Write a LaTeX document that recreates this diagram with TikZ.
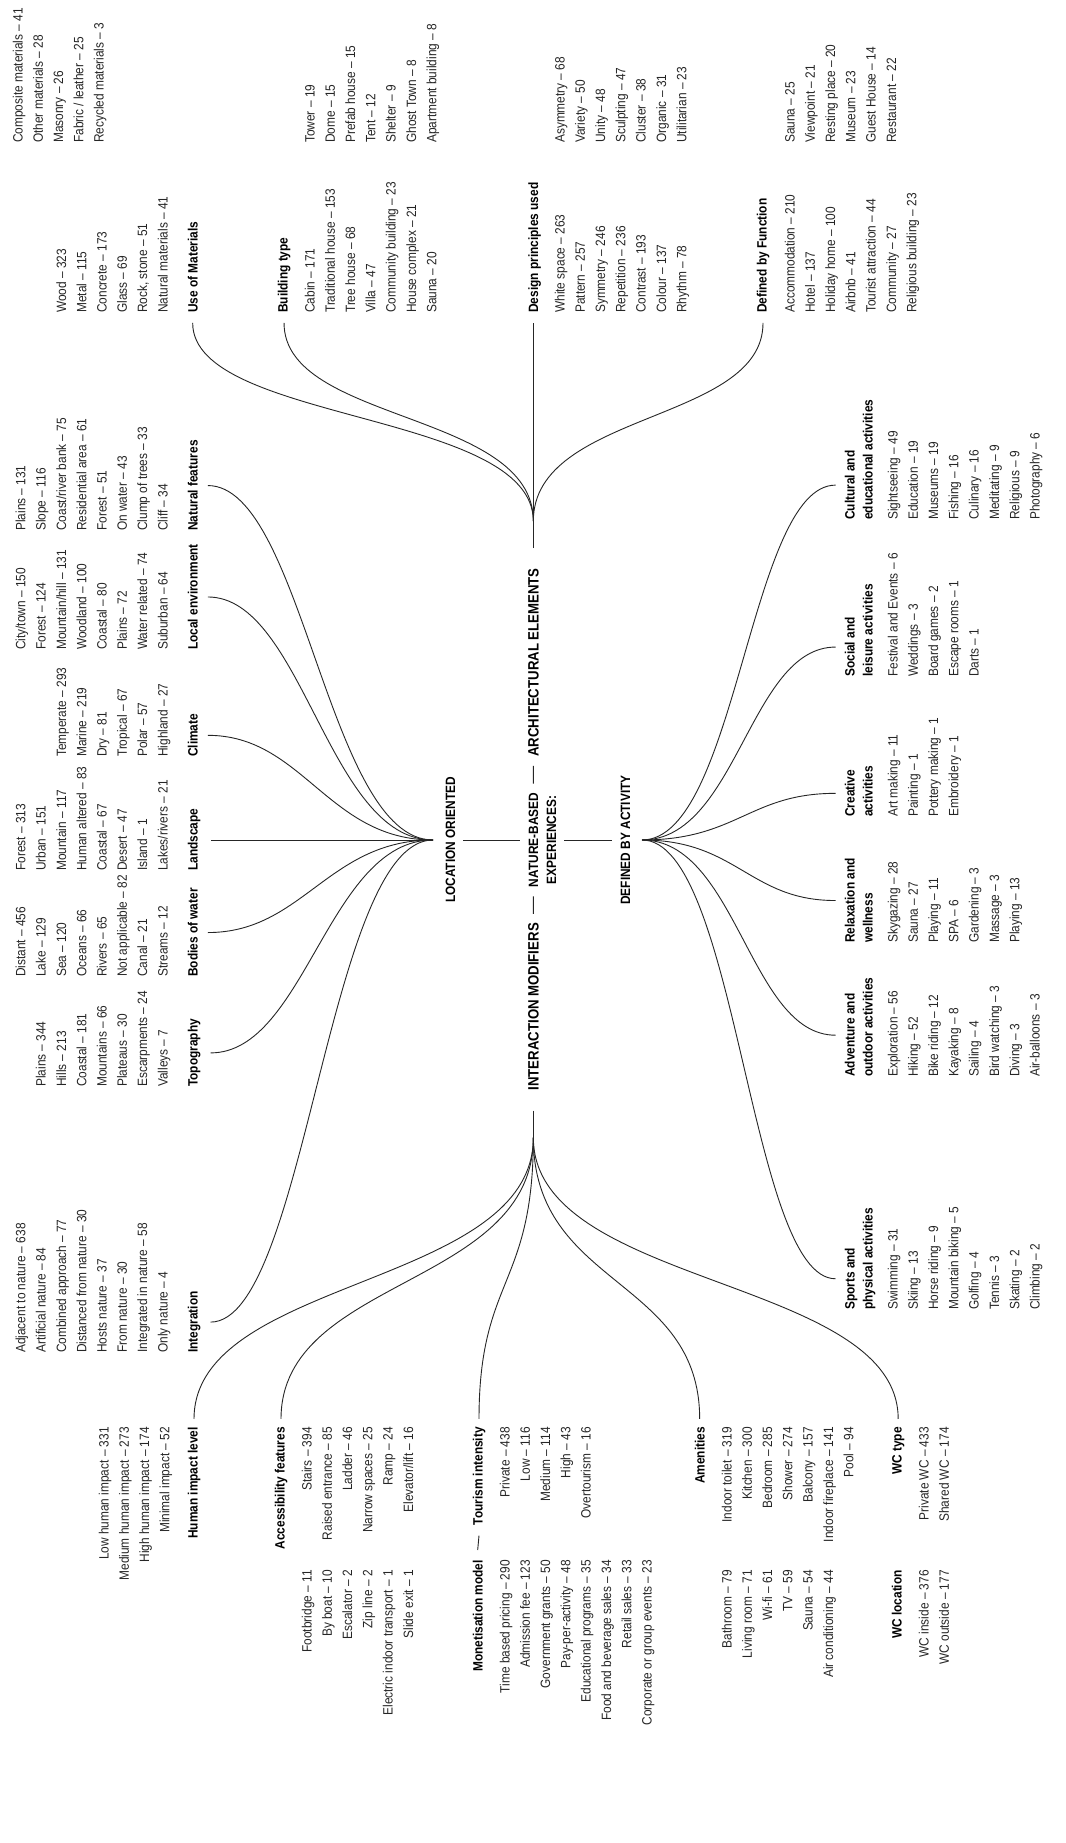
\documentclass[tikz,border=0pt]{standalone}
\usepackage{fontspec}
\setmainfont{Liberation Sans}[FakeStretch=0.88]
\usetikzlibrary{calc}
\newcommand\itf{\fontsize{13.5}{16}\selectfont}
\newcommand\sdf{\fontsize{15}{18}\selectfont}
\newcommand\mycol[5]{\foreach \t [count=\i from 0] in {#5}{\node[#1] (#4\i) at (#2,{#3+20.3*\i+4.5}) {\t};}}
\begin{document}
\begin{tikzpicture}[x=1pt,y=-1pt,rotate=90,transform shape,
 it/.style={anchor=base west,inner sep=0pt,font=\itf,text=black!85},
 itr/.style={anchor=base east,inner sep=0pt,font=\itf,text=black!85},
 ttl/.style={anchor=base west,inner sep=0pt,font=\itf\bfseries},
 ttlr/.style={anchor=base east,inner sep=0pt,font=\itf\bfseries},
 hd/.style={anchor=base,inner sep=0pt,font=\itf\bfseries},
 ln/.style={line width=0.9pt,draw=black!85}]
\fill[white] (0,0) rectangle (1843,1065);
\useasboundingbox (0,0) rectangle (1843,1065);
% ---------------- centre
\node[hd] (hubA) at (1003,538) {NATURE-BASED};
\node[hd] (hubB) at (1003,556) {EXPERIENCES:};
\node[hd] (LOC) at (1003,455) {LOCATION ORIENTED};
\node[hd] (DEF) at (1003,630) {DEFINED BY ACTIVITY};
\node[hd,font=\sdf\bfseries,anchor=base east] (IM) at (920,538.5) {INTERACTION MODIFIERS};
\node[hd,font=\sdf\bfseries,anchor=base west] (AE) at (1086,538.5) {ARCHITECTURAL ELEMENTS};
\draw[ln] ($(IM.east)+(9,0)$) -- ($(hubA.west)+(-9,0)$);
\draw[ln] ($(hubA.east)+(9,0)$) -- ($(AE.west)+(-9,0)$);
\draw[ln] ($(LOC.south)+(0,8)$) -- ($(hubA.north)+(0,-8)$);
\draw[ln] ($(hubB.south)+(0,8)$) -- ($(DEF.north)+(0,-8)$);
\coordinate (cLoc) at (1003,433);
\coordinate (cAct) at (1003,642);
\coordinate (sInt) at ($(IM.west)+(-20,0)$);
\coordinate (cInt) at ($(IM.west)+(-47,0)$);
\coordinate (sArc) at ($(AE.east)+(20,0)$);
\coordinate (cArc) at ($(AE.east)+(47,0)$);
\draw[ln] (sInt) -- (cInt);
\draw[ln] (sArc) -- (cArc);
% ---------------- location oriented
\node[ttl] (L1) at (490,197.5) {Integration};
\mycol{it}{490}{20.9}{L1i}{Adjacent to nature – 638,Artificial nature – 84,Combined approach – 77,Distanced from nature – 30,Hosts nature – 37,From nature – 30,Integrated in nature – 58,Only nature – 4}
\node[ttl] (L2) at (756,197.5) {Topography};
\mycol{it}{756}{41.2}{L2i}{Plains – 344,Hills – 213,Coastal – 181,Mountains – 66,Plateaus – 30,Escarpments – 24,Valleys – 7}
\node[ttl] (L3) at (866,197.5) {Bodies of water};
\mycol{it}{866}{20.9}{L3i}{Distant – 456,Lake – 129,Sea – 120,Oceans – 66,Rivers – 65,Not applicable – 82,Canal – 21,Streams – 12}
\node[ttl] (L4) at (972,197.5) {Landscape};
\mycol{it}{972}{20.9}{L4i}{Forest – 313,Urban – 151,Mountain – 117,Human altered – 83,Coastal – 67,Desert – 47,Island – 1,Lakes/rivers – 21}
\node[ttl] (L5) at (1086,197.5) {Climate};
\mycol{it}{1086}{61.5}{L5i}{Temperate – 293,Marine – 219,Dry – 81,Tropical – 67,Polar – 57,Highland – 27}
\node[ttl] (L6) at (1193,197.5) {Local environment};
\mycol{it}{1193}{20.9}{L6i}{City/town – 150,Forest – 124,Mountain/hill – 131,Woodland – 100,Coastal – 80,Plains – 72,Water related – 74,Suburban – 64}
\node[ttl] (L7) at (1312,197.5) {Natural features};
\mycol{it}{1312}{20.9}{L7i}{Plains – 131,Slope – 116,Coast/river bank – 75,Residential area – 61,Forest – 51,On water – 43,Clump of trees – 33,Cliff – 34}
\foreach \n in {L1,L2,L3,L5,L6,L7}
  \draw[ln,shorten >=10pt] (cLoc) .. controls +(0,-105) and +(0,105) .. (\n.south);
\draw[ln,shorten >=10pt] (cLoc) -- (cLoc |- L4.south);
% ---------------- defined by activity
\node[ttl] (A1) at (533,854.5) {Sports and};
\node[ttl] (A1b) at (533,872.5) {physical activities};
\mycol{it}{533}{893}{A1i}{Swimming – 31,Skiing – 13,Horse riding – 9,Mountain biking – 5,Golfing – 4,Tennis – 3,Skating – 2,Climbing – 2}
\node[ttl] (A2) at (766,854.5) {Adventure and};
\node[ttl] (A2b) at (766,872.5) {outdoor activities};
\mycol{it}{766}{893}{A2i}{Exploration – 56,Hiking – 52,Bike riding – 12,Kayaking – 8,Sailing – 4,Bird watching – 3,Diving – 3,Air-balloons – 3}
\node[ttl] (A3) at (900,854.5) {Relaxation and};
\node[ttl] (A3b) at (900,872.5) {wellness};
\mycol{it}{900}{893}{A3i}{Skygazing – 28,Sauna – 27,Playing – 11,SPA – 6,Gardening – 3,Massage – 3,Playing – 13}
\node[ttl] (A4) at (1026,854.5) {Creative};
\node[ttl] (A4b) at (1026,872.5) {activities};
\mycol{it}{1026}{893}{A4i}{Art making – 11,Painting – 1,Pottery making – 1,Embroidery – 1}
\node[ttl] (A5) at (1166,854.5) {Social and};
\node[ttl] (A5b) at (1166,872.5) {leisure activities};
\mycol{it}{1166}{893}{A5i}{Festival and Events – 6,Weddings – 3,Board games – 2,Escape rooms – 1,Darts – 1}
\node[ttl] (A6) at (1323,854.5) {Cultural and};
\node[ttl] (A6b) at (1323,872.5) {educational activities};
\mycol{it}{1323}{893}{A6i}{Sightseeing – 49,Education – 19,Museums – 19,Fishing – 16,Culinary – 16,Meditating – 9,Religious – 9,Photography – 6}
\foreach \n in {A1,A2,A3,A4,A5,A6}
  \draw[ln,shorten >=9pt] (cAct) .. controls +(0,95) and +(0,-95) .. (\n.north);
% ---------------- interaction modifiers
\node[ttlr] (I1) at (416,197.5) {Human impact level};
\mycol{itr}{416}{104}{I1i}{Low human impact – 331,Medium human impact – 273,High human impact – 174,Minimal impact – 52}
\node[ttlr] (I2) at (416,284.5) {Accessibility features};
\mycol{itr}{416}{307}{I2i}{Stairs – 394,Raised entrance – 85,Ladder – 46,Narrow spaces – 25,Ramp – 24,Elevator/lift – 16}
\mycol{itr}{273}{307}{I2j}{Footbridge – 11,By boat – 10,Escalator – 2,Zip line – 2,Electric indoor transport – 1,Slide exit – 1}
\node[ttlr] (I3) at (416,482.5) {Tourism intensity};
\mycol{itr}{416}{505}{I3i}{Private – 438,Low – 116,Medium – 114,High – 43,Overtourism – 16}
\node[ttlr] (M) at (283,482.5) {Monetisation model};
\mycol{itr}{283}{505}{Mi}{Time based pricing – 290,Admission fee – 123,Government grants – 50,Pay-per-activity – 48,Educational programs – 35,Food and beverage sales – 34,Retail sales – 33,Corporate or group events – 23}
\draw[ln] ($(M.east)+(10,0)$) -- ($(I3.west)+(-10,0)$);
\node[ttlr] (I4) at (416,704.5) {Amenities};
\mycol{itr}{416}{727}{I4i}{Indoor toilet – 319,Kitchen – 300,Bedroom – 285,Shower – 274,Balcony – 157,Indoor fireplace – 141,Pool – 94}
\mycol{itr}{273}{727}{I4j}{Bathroom – 79,Living room – 71,Wi-fi – 61,TV – 59,Sauna – 54,Air conditioning – 44}
\node[ttlr] (I5) at (416,901.5) {WC type};
\mycol{itr}{416}{924}{I5i}{Private WC – 433,Shared WC – 174}
\node[ttlr] (W) at (273,901.5) {WC location};
\mycol{itr}{273}{924}{Wi}{WC inside – 376,WC outside – 177}
\foreach \n in {I1,I2,I3,I4,I5}
  \draw[ln,shorten >=8pt] (cInt) .. controls +(-150,0) and +(150,0) .. (\n.east);
% ---------------- architectural elements
\node[ttl] (U) at (1530,197.5) {Use of Materials};
\mycol{it}{1530}{61.5}{Ui}{Wood – 323,Metal – 115,Concrete – 173,Glass – 69,{Rock, stone – 51},Natural materials – 41}
\mycol{it}{1700}{18}{Uj}{Composite materials – 41,Other materials – 28,Masonry – 26,Fabric / leather – 25,Recycled materials – 3}
\node[ttl] (B) at (1530,287.5) {Building type};
\mycol{it}{1530}{310}{Bi}{Cabin – 171,Traditional house – 153,Tree house – 68,Villa – 47,Community building – 23,House complex – 21,Sauna – 20}
\mycol{it}{1700}{310}{Bj}{Tower – 19,Dome – 15,Prefab house – 15,Tent – 12,Shelter – 9,Ghost Town – 8,Apartment building – 8}
\node[ttl] (D) at (1530,538) {Design principles used};
\mycol{it}{1530}{560}{Di}{White space – 263,Pattern – 257,Symmetry – 246,Repetition – 236,Contrast – 193,Colour – 137,Rhythm – 78}
\mycol{it}{1700}{560}{Dj}{Asymmetry – 68,Variety – 50,Unity – 48,Sculpting – 47,Cluster – 38,Organic – 31,Utilitarian – 23}
\node[ttl] (F) at (1530,766.5) {Defined by Function};
\mycol{it}{1530}{790}{Fi}{Accommodation – 210,Hotel – 137,Holiday home – 100,Airbnb – 41,Tourist attraction – 44,Community – 27,Religious building – 23}
\mycol{it}{1700}{790}{Fj}{Sauna – 25,Viewpoint – 21,Resting place – 20,Museum – 23,Guest House – 14,Restaurant – 22}
\foreach \n in {U,B,F}
  \draw[ln,shorten >=10pt] (cArc) .. controls +(110,0) and +(-110,0) .. (\n.west);
\draw[ln,shorten >=10pt] (cArc) -- (cArc -| D.west);
\end{tikzpicture}
\end{document}
